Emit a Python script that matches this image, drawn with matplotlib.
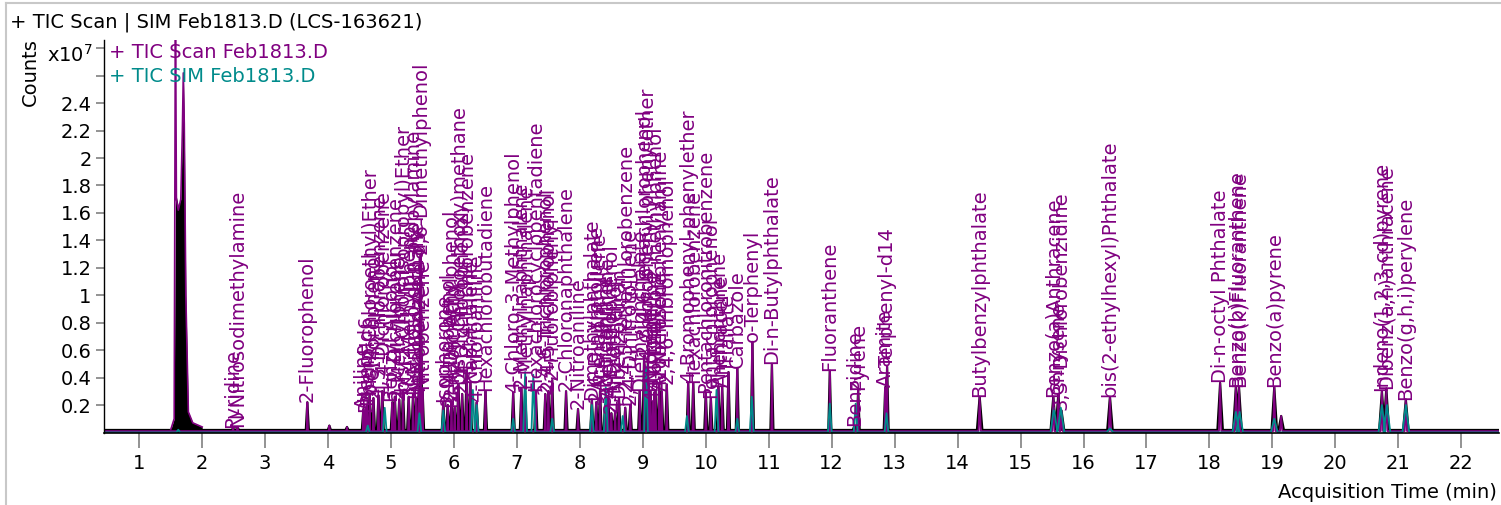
import numpy as np
import matplotlib
matplotlib.use("Agg")
import matplotlib.pyplot as plt
from matplotlib.lines import Line2D
import matplotlib.transforms as mtransforms

plt.rcParams['font.family'] = ['DejaVu Sans']

# labelled peaks of the Scan trace (retention time in min, height in x1e7 counts)
peak_names = [
    "Pyridine", "N-Nitrosodimethylamine", "2-Fluorophenol", "", "",
    "Aniline", "Phenol-d6", "Phenol", "bis(2-Chloroethyl)Ether", "2-Chlorophenol",
    "1,3-Dichlorobenzene", "1,4-Dichlorobenzene", "Benzyl Alcohol", "1,2-Dichlorobenzene",
    "2-Methylphenol", "bis(2-Chloroisopropyl)Ether", "3&4-Methylphenol",
    "N-Nitroso-di-n-propylamine", "Hexachloroethane", "Nitrobenzene-d5",
    "2,6-Dimethylphenol", "Nitrobenzene",
    "Isophorone", "2-Nitrophenol", "2,4-Dimethylphenol", "Benzoic Acid",
    "bis(2-Chloroethoxy)methane", "2,4-Dichlorophenol", "1,2,4-Trichlorobenzene",
    "Naphthalene", "4-Chloroaniline", "Hexachlorobutadiene",
    "4-Chloro-3-Methylphenol", "2-Methylnaphthalene", "1-Methylnaphthalene",
    "Hexachlorocyclopentadiene", "2,4,6-Trichlorophenol", "2,4,5-Trichlorophenol",
    "2-Fluorobiphenyl", "2-Chloronaphthalene", "2-Nitroaniline", "Dimethylphthalate",
    "2,6-Dinitrotoluene", "Acenaphthylene", "3-Nitroaniline", "Acenaphthene",
    "2,4-Dinitrophenol", "4-Nitrophenol", "Dibenzofuran", "1,2,4,5-Tetrachlorobenzene",
    "2,4-Dinitrotoluene", "Diethylphthalate", "2,3,4,6-Tetrachlorophenol",
    "4-Chlorophenyl-phenylether", "Fluorene", "4-Nitroaniline",
    "4,6-Dinitro-2-methylphenol", "N-Nitrosodiphenylamine", "Azobenzene",
    "2,4,6-Tribromophenol", "4-Bromophenyl-phenylether", "Hexachlorobenzene",
    "Pentachloronitrobenzene", "Pentachlorophenol", "Phenanthrene", "Anthracene",
    "Triallate", "Carbazole", "o-Terphenyl", "Di-n-Butylphthalate",
    "Fluoranthene", "Benzidine", "Pyrene", "Aramite", "Terphenyl-d14",
    "Butylbenzylphthalate", "Benzo(a)Anthracene", "Chrysene", "3,3'-Dichlorobenzidine",
    "bis(2-ethylhexyl)Phthalate", "Di-n-octyl Phthalate", "Benzo(b)Fluoranthene",
    "Benzo(k)Fluoranthene", "Benzo(a)pyrene", "", "Indeno(1,2,3-cd)pyrene",
    "Dibenz(a,h)anthracene", "Benzo(g,h,i)perylene",
]
peak_rt = [
    2.49, 2.56, 3.67, 4.02, 4.30,
    4.56, 4.59, 4.62, 4.66, 4.72,
    4.80, 4.86, 5.02, 5.06,
    5.13, 5.19, 5.28,
    5.35, 5.40, 5.44,
    5.47, 5.50,
    5.83, 5.90, 5.96, 6.01,
    6.07, 6.13, 6.20,
    6.26, 6.36, 6.50,
    6.94, 7.07, 7.13,
    7.30, 7.45, 7.50,
    7.56, 7.78, 7.97, 8.19,
    8.26, 8.32, 8.40, 8.45,
    8.50, 8.56, 8.62, 8.72,
    8.80, 8.95, 9.02,
    9.08, 9.12, 9.16,
    9.20, 9.26, 9.30,
    9.38, 9.72, 9.80,
    10.00, 10.08, 10.20, 10.26,
    10.36, 10.50, 10.74, 11.05,
    11.97, 12.36, 12.42, 12.85, 12.88,
    14.35, 15.52, 15.60, 15.65,
    16.42, 18.17, 18.42,
    18.47, 19.03, 19.14, 20.74,
    20.81, 21.12,
]
scan_height = [
    0.03, 0.04, 0.22, 0.05, 0.04,
    0.17, 0.15, 0.20, 0.28, 0.25,
    0.27, 0.30, 0.22, 0.26,
    0.24, 0.30, 0.26,
    0.28, 0.25, 0.30,
    1.30, 0.32,
    0.22, 0.20, 0.23, 0.18,
    0.35, 0.28, 0.45,
    0.36, 0.22, 0.30,
    0.29, 0.32, 0.30,
    0.30, 0.28, 0.30,
    0.38, 0.30, 0.17, 0.24,
    0.22, 0.30, 0.20, 0.25,
    0.14, 0.15, 0.25, 0.18,
    0.20, 0.30, 0.56,
    0.52, 0.30, 0.22,
    0.30, 0.35, 0.30,
    0.35, 0.36, 0.36,
    0.29, 0.25, 0.33, 0.33,
    0.44, 0.47, 0.66, 0.50,
    0.45, 0.05, 0.31, 0.33, 0.48,
    0.26, 0.26, 0.28, 0.16,
    0.26, 0.36, 0.33,
    0.33, 0.33, 0.12, 0.30,
    0.32, 0.24,
]

# solvent front (off scale in the Scan trace)
solvent_rt = [1.50, 1.555, 1.575, 1.59, 1.62, 1.66, 1.685, 1.70, 1.715, 1.74, 1.78, 1.85, 2.00]
solvent_scan = [0.02, 0.10, 3.20, 1.70, 1.62, 1.70, 2.20, 2.62, 2.25, 1.00, 0.15, 0.07, 0.04]
solvent_black = [0.02, 0.10, 1.72, 1.72, 1.65, 1.70, 2.20, 2.62, 2.25, 1.00, 0.15, 0.07, 0.04]

# SIM trace peaks
sim_rt = [1.62, 4.63, 4.90, 5.45, 5.83, 6.30, 6.36, 6.94, 7.13, 7.26, 7.56, 8.19,
          8.41, 8.68, 9.05, 9.70, 10.17, 10.50, 10.73, 11.97, 12.38, 12.87,
          15.53, 15.64, 16.42, 18.42, 18.48, 19.03, 20.74, 20.82, 21.12]
sim_height = [0.02, 0.05, 0.18, 0.14, 0.16, 0.31, 0.20, 0.10, 0.44, 0.42, 0.10, 0.20,
              0.33, 0.12, 0.48, 0.12, 0.31, 0.10, 0.26, 0.21, 0.21, 0.14,
              0.18, 0.18, 0.03, 0.15, 0.15, 0.10, 0.20, 0.20, 0.20]

x_ticks = list(range(1, 23))
y_ticks = [0.2, 0.4, 0.6, 0.8, 1.0, 1.2, 1.4, 1.6, 1.8, 2.0, 2.2, 2.4, 2.6, 2.8]

XMIN, XMAX = 0.44, 22.6
PURPLE = '#800080'
TEAL = '#008b8b'


def spikes(ts, hs, hw, base):
    # one polyline of narrow triangular peaks
    order = np.argsort(ts)
    xs, ys = [XMIN], [base]
    for i in order:
        w = hw * (1.8 if ts[i] > 14 else 1.0)
        xs += [ts[i] - w, ts[i], ts[i] + w]
        ys += [base, hs[i], base]
    xs.append(XMAX)
    ys.append(base)
    return xs, ys


fig = plt.figure(figsize=(15.01, 5.05), dpi=100)
ax = fig.add_axes([104 / 1501, 1 - 433 / 505, (1499 - 104) / 1501, (433 - 40) / 505])

# black trace (under)
ax.fill_between(solvent_rt, 0, solvent_black, color='black', lw=0)
bx, by = spikes(peak_rt, scan_height, 0.024, 0.018)
ax.plot(bx, by, color='black', lw=1.6)

# Scan trace
ax.plot(solvent_rt, solvent_scan, color=PURPLE, lw=1.2)
px, py = spikes(peak_rt, scan_height, 0.010, 0.010)
ax.plot(px, py, color=PURPLE, lw=1.3)

# SIM trace
sx, sy = spikes(sim_rt, sim_height, 0.03, 0.0)
ax.plot(sx, sy, color=TEAL, lw=1.3)

for name, t, h in zip(peak_names, peak_rt, scan_height):
    if name:
        ax.text(t, h, name, rotation=90, ha='center', va='bottom', color=PURPLE,
                fontsize=14)

ax.set_xlim(XMIN, XMAX)
ax.set_ylim(-0.004, 2.86)
for s in ['top', 'right']:
    ax.spines[s].set_visible(False)
ax.spines['left'].set_linewidth(1.0)
ax.spines['bottom'].set_linewidth(1.2)

ax.set_xticks(x_ticks)
ax.set_xticklabels([str(v) for v in x_ticks], fontsize=14)
ax.set_yticks(y_ticks)
ax.set_yticklabels(['%g' % v if v < 2.5 else '' for v in y_ticks], fontsize=14)
ax.tick_params(axis='x', length=11, width=1.2, color='#808080', pad=4)
ax.tick_params(axis='y', length=6, width=1.2, color='#808080', pad=3)

trans = mtransforms.blended_transform_factory(ax.transAxes, ax.transData)
ax.text(-0.008, 2.75, 'x10$^7$', transform=trans, ha='right', va='center', fontsize=14)

fig.text(109 / 1501, 1 - 52 / 505, '+ TIC Scan Feb1813.D', color=PURPLE, fontsize=14, va='center')
fig.text(109 / 1501, 1 - 76 / 505, '+ TIC SIM Feb1813.D', color=TEAL, fontsize=14, va='center')
fig.text(10 / 1501, 1 - 22 / 505, '+ TIC Scan | SIM Feb1813.D (LCS-163621)', fontsize=14, va='center')
fig.text(30 / 1501, 1 - 72 / 505, 'Counts', rotation=90, fontsize=14, ha='center', va='center')
fig.text(1497 / 1501, 1 - 493 / 505, 'Acquisition Time (min)', fontsize=14, ha='right', va='center')

# panel border
fig.add_artist(Line2D([6 / 1501, 6 / 1501], [0, 1 - 3 / 505], color='#c8c8c8', lw=1.5))
fig.add_artist(Line2D([6 / 1501, 1], [1 - 3 / 505, 1 - 3 / 505], color='#c8c8c8', lw=1.5))

fig.savefig('out.png', dpi=100)
